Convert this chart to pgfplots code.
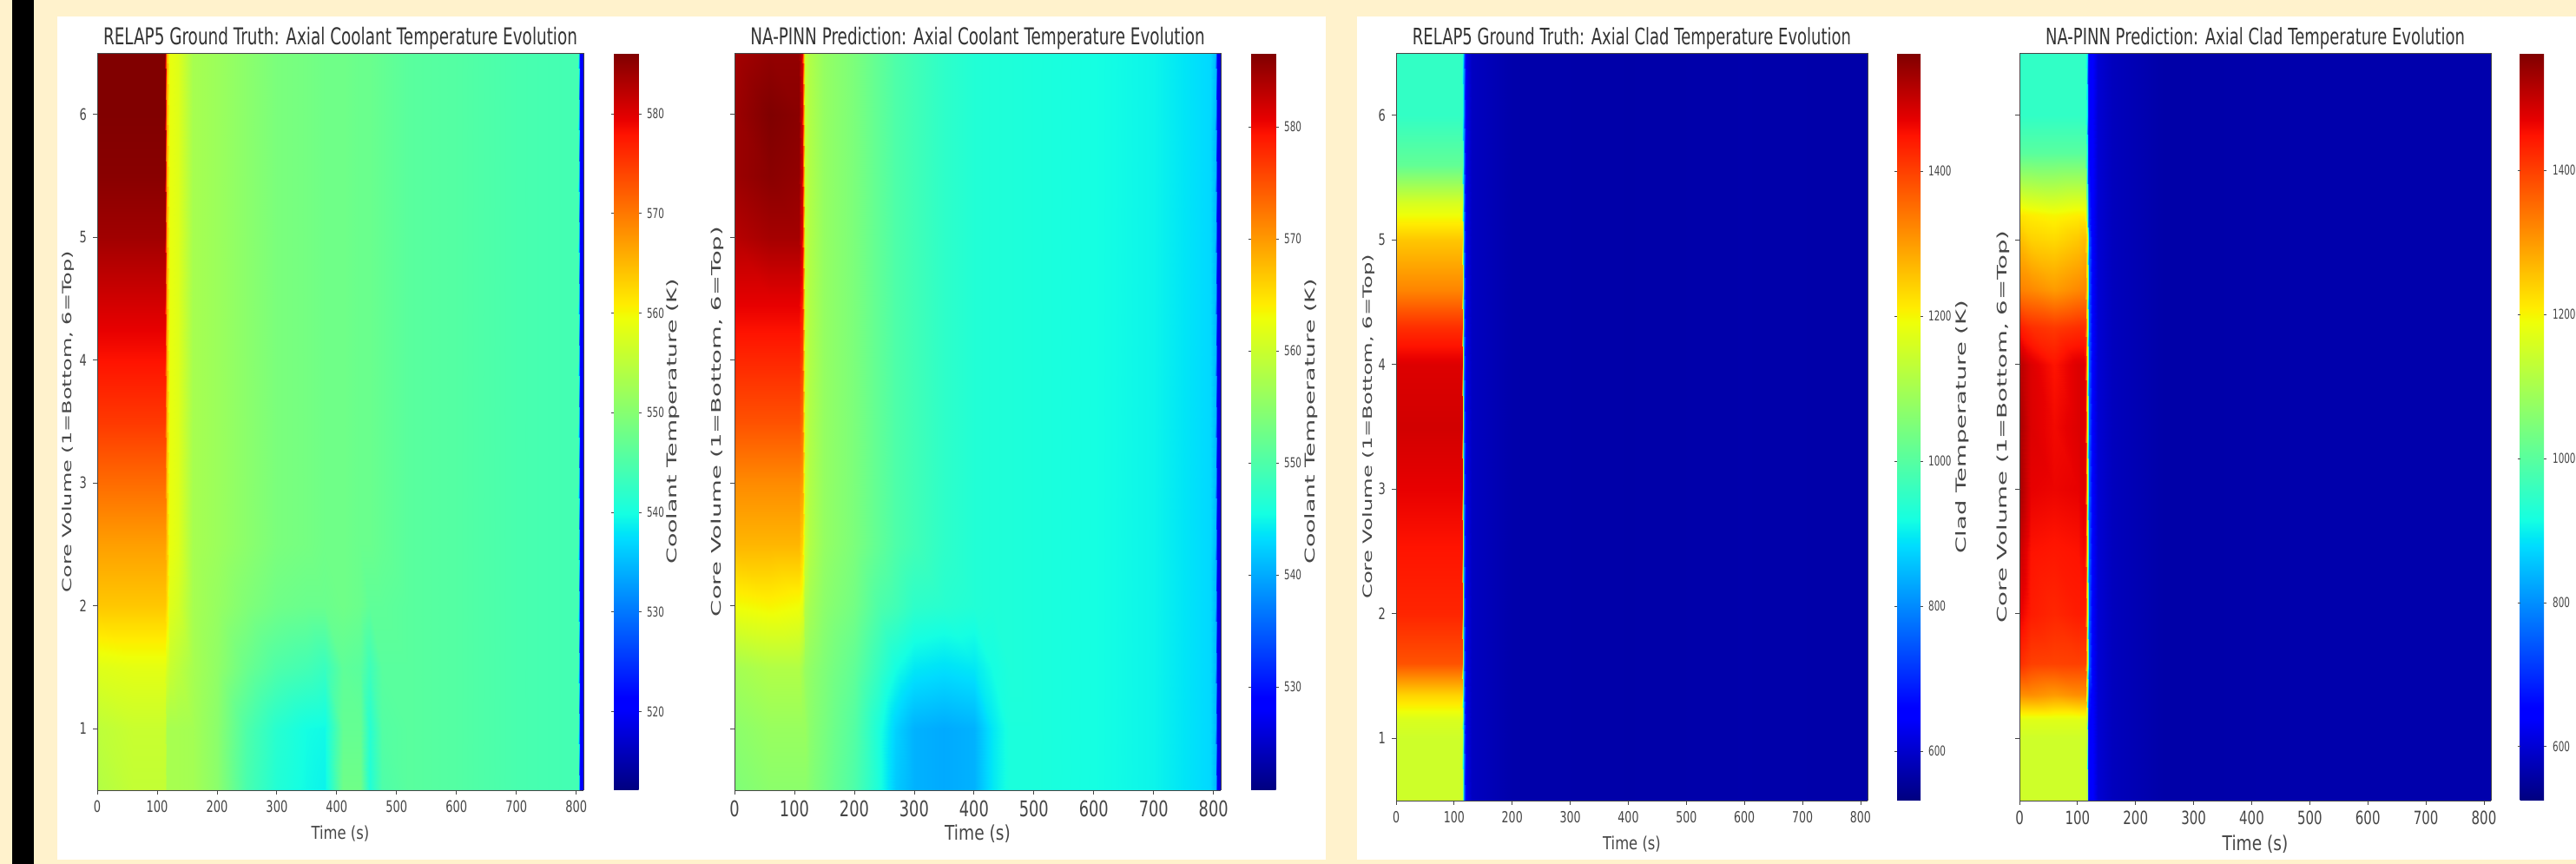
\documentclass[border=0pt]{standalone}
\usepackage{pgfplots}
\usepackage{fontspec}
\setmainfont{DejaVu Sans}
\pgfplotsset{compat=1.18}
\definecolor{cream}{RGB}{255,242,204}
\definecolor{axc}{RGB}{70,70,70}
\pgfplotsset{
  colormap={mpljet}{rgb(0pt)=(0,0,.5); rgb(110pt)=(0,0,1); rgb(125pt)=(0,0,1); rgb(340pt)=(0,.86,1); rgb(350pt)=(0,.9,.968); rgb(375pt)=(.081,1,.887); rgb(640pt)=(.935,1,.032); rgb(650pt)=(.968,.963,0); rgb(660pt)=(1,.926,0); rgb(890pt)=(1,.074,0); rgb(910pt)=(.909,0,0); rgb(1000pt)=(.5,0,0)},
  hm/.style={
    scale only axis, view={0}{90}, colormap name=mpljet, axis on top,
    xmin=0,xmax=812,ymin=0.5,ymax=6.5,
    xtick={0,100,...,800},ytick={1,2,3,4,5,6},ztick=\empty,
    tick align=outside, tick pos=left, major tick length=2.5pt,
    grid=none,
    axis line style={axc,line width=0.4pt},
    tick style={axc,line width=0.4pt},
    /pgf/number format/assume math mode=true,
    /pgf/number format/1000 sep={},
    xticklabel={\scalebox{1}[1.4]{\pgfmathprintnumber{\tick}}},
    yticklabel={\scalebox{1}[1.4]{\pgfmathprintnumber{\tick}}},
    ticklabel style={font=\fontsize{6.5}{8}\selectfont,text=axc},
    title style={font=\fontsize{9.2}{10}\selectfont,text=black!80,at={(0.5,1)},anchor=center,yshift=2.5pt},
    xlabel={\scalebox{1}[1.25]{Time (s)}},
    xlabel style={font=\fontsize{8.2}{10}\selectfont,text=axc,at={(0.5,0)},anchor=center},
    ylabel style={text=axc,anchor=center,rotate=0},
  },
  cb/.style={
    at={(parent axis.south east)},anchor=south west,
    scale only axis,
    tick align=outside,
    major tick length=1.5pt,
    axis line style={draw=none},
    tick style={axc,line width=0.3pt},
    yticklabel pos=right,
    /pgf/number format/assume math mode=true,
    /pgf/number format/1000 sep={},
    yticklabel={\scalebox{1}[1.5]{\pgfmathprintnumber{\tick}}},
    yticklabel style={font=\fontsize{5.2}{6}\selectfont,text=axc,xshift=-0.5pt},
    ylabel style={text=axc,anchor=center},
  },
}
\begin{document}
\begin{tikzpicture}[x=1pt,y=1pt]
\path[use as bounding box,fill=cream] (0,0) rectangle (1483.5,497.5);
\fill[black] (7,0) rectangle (19.5,497.5);
\fill[white] (33,2.5) rectangle (763.5,488);
\fill[white] (781.5,2.5) rectangle (1483.5,488);

% Panel 1
\begin{axis}[hm,at={(56pt,42.5pt)},anchor=south west,width=280pt,height=424.5pt,
  title={\scalebox{1}[1.45]{RELAP5 Ground Truth: Axial Coolant Temperature Evolution}},
  xlabel style={yshift=-25pt},
  ylabel={\scalebox{1}[0.6]{Core Volume (1=Bottom, 6=Top)}},
  ylabel style={at={(0,0.5)},yshift=16.5pt,font=\fontsize{12}{14}\selectfont},
  point meta min=512.1,point meta max=586.1,
  colorbar,
  colorbar style={cb,xshift=9pt,width=14.5pt,ytick={520,530,...,580},
    ylabel={\scalebox{1}[0.58]{Coolant Temperature (K)}},ylabel style={at={(1,0.5)},yshift=-19.5pt,font=\fontsize{13.4}{15}\selectfont}}]
\addplot3[surf,shader=interp,mesh/cols=23] coordinates {
(0,0.5,554)(60,0.5,555.5)(108,0.5,555.5)(113,0.5,555.5)(116,0.5,553)(120,0.5,553)(135,0.5,553)(160,0.5,552.7)(200,0.5,550.5)(250,0.5,544.5)(300,0.5,541)(350,0.5,539.5)(380,0.5,539)(410,0.5,548)(440,0.5,548)(455,0.5,541)(475,0.5,545)(520,0.5,546)(600,0.5,545.5)(700,0.5,544.5)(803,0.5,544)(806,0.5,522)(812,0.5,518)
(0,1,555)(60,1,556)(108,1,556)(113,1,556)(116,1,553)(120,1,553)(135,1,553)(160,1,552.7)(200,1,550.5)(250,1,545)(300,1,541.5)(350,1,539.8)(380,1,539.5)(410,1,547)(440,1,547)(455,1,541.5)(475,1,545.5)(520,1,546)(600,1,545.5)(700,1,544.5)(803,1,544)(806,1,522)(812,1,518)
(0,1.5,558)(60,1.5,558.5)(108,1.5,558.5)(113,1.5,558.5)(116,1.5,557)(120,1.5,556)(135,1.5,555)(160,1.5,553)(200,1.5,551)(250,1.5,547.5)(300,1.5,545)(350,1.5,544)(380,1.5,543)(410,1.5,546.5)(440,1.5,546)(455,1.5,543.5)(475,1.5,546)(520,1.5,546)(600,1.5,545.5)(700,1.5,544.5)(803,1.5,544)(806,1.5,522)(812,1.5,518)
(0,2,563.8)(60,2,563.8)(108,2,563.8)(113,2,563.8)(116,2,562)(120,2,558)(135,2,557)(160,2,553)(200,2,551.5)(250,2,549.5)(300,2,548)(350,2,547.5)(380,2,547.5)(410,2,548)(440,2,547.5)(455,2,546.5)(475,2,546.5)(520,2,546)(600,2,545.5)(700,2,544.5)(803,2,544)(806,2,522)(812,2,518)
(0,2.5,567)(60,2.5,567)(108,2.5,567)(113,2.5,567)(116,2.5,564)(120,2.5,559)(135,2.5,558)(160,2.5,553)(200,2.5,552)(250,2.5,550.5)(300,2.5,549)(350,2.5,548.5)(380,2.5,548)(410,2.5,548)(440,2.5,547.5)(455,2.5,547.5)(475,2.5,547)(520,2.5,546)(600,2.5,545.5)(700,2.5,544.5)(803,2.5,544)(806,2.5,522)(812,2.5,518)
(0,3,571)(60,3,571)(108,3,571)(113,3,571)(116,3,564)(120,3,559)(135,3,558)(160,3,553)(200,3,552)(250,3,550.5)(300,3,549)(350,3,548.5)(380,3,548)(410,3,548)(440,3,547.5)(455,3,547.5)(475,3,547)(520,3,546)(600,3,545.5)(700,3,544.5)(803,3,544)(806,3,522)(812,3,518)
(0,3.5,575)(60,3.5,575)(108,3.5,575)(113,3.5,575)(116,3.5,565)(120,3.5,559)(135,3.5,558)(160,3.5,553)(200,3.5,552)(250,3.5,550.5)(300,3.5,549)(350,3.5,548.5)(380,3.5,548)(410,3.5,548)(440,3.5,547.5)(455,3.5,547.5)(475,3.5,547)(520,3.5,546)(600,3.5,545.5)(700,3.5,544.5)(803,3.5,544)(806,3.5,522)(812,3.5,518)
(0,4,578)(60,4,578)(108,4,578)(113,4,578)(116,4,566)(120,4,559)(135,4,558)(160,4,553)(200,4,552)(250,4,550.5)(300,4,549)(350,4,548.5)(380,4,548)(410,4,548)(440,4,547.5)(455,4,547.5)(475,4,547)(520,4,546)(600,4,545.5)(700,4,544.5)(803,4,544)(806,4,522)(812,4,518)
(0,4.5,581)(60,4.5,581)(108,4.5,581)(113,4.5,581)(116,4.5,566)(120,4.5,559)(135,4.5,558)(160,4.5,553)(200,4.5,552)(250,4.5,550.5)(300,4.5,549)(350,4.5,548.5)(380,4.5,548)(410,4.5,548)(440,4.5,547.5)(455,4.5,547.5)(475,4.5,547)(520,4.5,546)(600,4.5,545.5)(700,4.5,544.5)(803,4.5,544)(806,4.5,522)(812,4.5,518)
(0,5,584)(60,5,584)(108,5,584)(113,5,584)(116,5,566)(120,5,559)(135,5,558)(160,5,553)(200,5,552)(250,5,550.5)(300,5,549)(350,5,548.5)(380,5,548)(410,5,548)(440,5,547.5)(455,5,547.5)(475,5,547)(520,5,546)(600,5,545.5)(700,5,544.5)(803,5,544)(806,5,522)(812,5,518)
(0,5.5,585.5)(60,5.5,585.5)(108,5.5,585.5)(113,5.5,585.5)(116,5.5,566)(120,5.5,559)(135,5.5,558)(160,5.5,553)(200,5.5,552)(250,5.5,550.5)(300,5.5,549)(350,5.5,548.5)(380,5.5,548)(410,5.5,548)(440,5.5,547.5)(455,5.5,547.5)(475,5.5,547)(520,5.5,546)(600,5.5,545.5)(700,5.5,544.5)(803,5.5,544)(806,5.5,522)(812,5.5,518)
(0,6,586)(60,6,586)(108,6,586)(113,6,586)(116,6,566)(120,6,559)(135,6,558)(160,6,553)(200,6,552)(250,6,550.5)(300,6,549)(350,6,548.5)(380,6,548)(410,6,548)(440,6,547.5)(455,6,547.5)(475,6,547)(520,6,546)(600,6,545.5)(700,6,544.5)(803,6,544)(806,6,522)(812,6,518)
(0,6.5,586)(60,6.5,586)(108,6.5,586)(113,6.5,586)(116,6.5,566)(120,6.5,559)(135,6.5,558)(160,6.5,553)(200,6.5,552)(250,6.5,550.5)(300,6.5,549)(350,6.5,548.5)(380,6.5,548)(410,6.5,548)(440,6.5,547.5)(455,6.5,547.5)(475,6.5,547)(520,6.5,546)(600,6.5,545.5)(700,6.5,544.5)(803,6.5,544)(806,6.5,522)(812,6.5,518)
};
\end{axis}

% Panel 2
\begin{axis}[hm,at={(423pt,42.5pt)},anchor=south west,width=280pt,height=424.5pt,
  title={\scalebox{1}[1.45]{NA-PINN Prediction: Axial Coolant Temperature Evolution}},
  yticklabels={},
  xticklabel style={font=\fontsize{8.9}{10}\selectfont},
  xlabel style={yshift=-25pt,font=\fontsize{9.3}{10}\selectfont},
  ylabel={\scalebox{1}[0.55]{Core Volume (1=Bottom, 6=Top)}},
  ylabel style={at={(0,0.5)},yshift=10pt,font=\fontsize{13.7}{15}\selectfont},
  point meta min=520.8,point meta max=586.6,
  colorbar,
  colorbar style={cb,xshift=9pt,width=14.5pt,ytick={530,540,...,580},
    ylabel={\scalebox{1}[0.58]{Coolant Temperature (K)}},ylabel style={at={(1,0.5)},yshift=-20pt,font=\fontsize{13.4}{15}\selectfont}}]
\addplot3[surf,shader=interp,mesh/cols=22] coordinates {
(0,0.5,554)(60,0.5,555)(108,0.5,555)(113,0.5,555)(118,0.5,555)(125,0.5,554.5)(150,0.5,553)(200,0.5,550)(240,0.5,546)(270,0.5,542)(300,0.5,540.5)(350,0.5,540)(400,0.5,540.5)(430,0.5,544)(460,0.5,546)(500,0.5,546)(600,0.5,545.5)(700,0.5,544.8)(795,0.5,543)(803,0.5,541)(806,0.5,527)(812,0.5,526)
(0,1,555)(60,1,556)(108,1,556)(113,1,556)(118,1,556)(125,1,555)(150,1,553.5)(200,1,550.5)(240,1,546)(270,1,542.5)(300,1,540.5)(350,1,540)(400,1,540.5)(430,1,544)(460,1,546)(500,1,546)(600,1,545.5)(700,1,544.8)(795,1,543)(803,1,541)(806,1,527)(812,1,526)
(0,1.5,557)(60,1.5,558)(108,1.5,558)(113,1.5,557)(118,1.5,556)(125,1.5,555.5)(150,1.5,554)(200,1.5,551.5)(240,1.5,548)(270,1.5,545.5)(300,1.5,544)(350,1.5,543.5)(400,1.5,544)(430,1.5,545.5)(460,1.5,546.2)(500,1.5,546)(600,1.5,545.5)(700,1.5,544.8)(795,1.5,543)(803,1.5,541)(806,1.5,527)(812,1.5,526)
(0,2,563)(60,2,563.6)(108,2,563)(113,2,562)(118,2,558)(125,2,557)(150,2,555)(200,2,553)(240,2,550)(270,2,549)(300,2,547.5)(350,2,547)(400,2,546.5)(430,2,546.3)(460,2,546.2)(500,2,546)(600,2,545.5)(700,2,544.8)(795,2,543)(803,2,541)(806,2,527)(812,2,526)
(0,2.5,568)(60,2.5,568)(108,2.5,568)(113,2.5,566)(118,2.5,560)(125,2.5,558)(150,2.5,555.7)(200,2.5,553.7)(240,2.5,551.5)(270,2.5,550)(300,2.5,549)(350,2.5,547.5)(400,2.5,546.5)(430,2.5,546.3)(460,2.5,546.2)(500,2.5,546)(600,2.5,545.5)(700,2.5,544.8)(795,2.5,543)(803,2.5,541)(806,2.5,527)(812,2.5,526)
(0,3,571)(60,3,571)(108,3,571)(113,3,570)(118,3,560)(125,3,558)(150,3,555.7)(200,3,553.7)(240,3,551.5)(270,3,550)(300,3,549)(350,3,547.5)(400,3,546.5)(430,3,546.3)(460,3,546.2)(500,3,546)(600,3,545.5)(700,3,544.8)(795,3,543)(803,3,541)(806,3,527)(812,3,526)
(0,3.5,575)(60,3.5,575)(108,3.5,575)(113,3.5,573)(118,3.5,560)(125,3.5,558)(150,3.5,555.7)(200,3.5,553.7)(240,3.5,551.5)(270,3.5,550)(300,3.5,549)(350,3.5,547.5)(400,3.5,546.5)(430,3.5,546.3)(460,3.5,546.2)(500,3.5,546)(600,3.5,545.5)(700,3.5,544.8)(795,3.5,543)(803,3.5,541)(806,3.5,527)(812,3.5,526)
(0,4,578)(60,4,578)(108,4,578)(113,4,576)(118,4,560)(125,4,558)(150,4,555.7)(200,4,553.7)(240,4,551.5)(270,4,550)(300,4,549)(350,4,547.5)(400,4,546.5)(430,4,546.3)(460,4,546.2)(500,4,546)(600,4,545.5)(700,4,544.8)(795,4,543)(803,4,541)(806,4,527)(812,4,526)
(0,4.5,581)(60,4.5,581)(108,4.5,581)(113,4.5,579)(118,4.5,560)(125,4.5,558)(150,4.5,555.7)(200,4.5,553.7)(240,4.5,551.5)(270,4.5,550)(300,4.5,549)(350,4.5,547.5)(400,4.5,546.5)(430,4.5,546.3)(460,4.5,546.2)(500,4.5,546)(600,4.5,545.5)(700,4.5,544.8)(795,4.5,543)(803,4.5,541)(806,4.5,527)(812,4.5,526)
(0,5,583.5)(60,5,584.5)(108,5,584.5)(113,5,581)(118,5,560)(125,5,558)(150,5,555.7)(200,5,553.7)(240,5,551.5)(270,5,550)(300,5,549)(350,5,547.5)(400,5,546.5)(430,5,546.3)(460,5,546.2)(500,5,546)(600,5,545.5)(700,5,544.8)(795,5,543)(803,5,541)(806,5,527)(812,5,526)
(0,5.5,585)(60,5.5,586)(108,5.5,585.5)(113,5.5,582)(118,5.5,560)(125,5.5,558)(150,5.5,555.7)(200,5.5,553.7)(240,5.5,551.5)(270,5.5,550)(300,5.5,549)(350,5.5,547.5)(400,5.5,546.5)(430,5.5,546.3)(460,5.5,546.2)(500,5.5,546)(600,5.5,545.5)(700,5.5,544.8)(795,5.5,543)(803,5.5,541)(806,5.5,527)(812,5.5,526)
(0,6,585)(60,6,586.6)(108,6,586)(113,6,582)(118,6,560)(125,6,558)(150,6,555.7)(200,6,553.7)(240,6,551.5)(270,6,550)(300,6,549)(350,6,547.5)(400,6,546.5)(430,6,546.3)(460,6,546.2)(500,6,546)(600,6,545.5)(700,6,544.8)(795,6,543)(803,6,541)(806,6,527)(812,6,526)
(0,6.5,584.5)(60,6.5,585.5)(108,6.5,585.5)(113,6.5,582)(118,6.5,560)(125,6.5,558)(150,6.5,555.7)(200,6.5,553.7)(240,6.5,551.5)(270,6.5,550)(300,6.5,549)(350,6.5,547.5)(400,6.5,546.5)(430,6.5,546.3)(460,6.5,546.2)(500,6.5,546)(600,6.5,545.5)(700,6.5,544.8)(795,6.5,543)(803,6.5,541)(806,6.5,527)(812,6.5,526)
};
\end{axis}

% Panel 3
\begin{axis}[hm,at={(804pt,36.5pt)},anchor=south west,width=271.5pt,height=430.5pt,
  title={\scalebox{1}[1.45]{RELAP5 Ground Truth: Axial Clad Temperature Evolution}},
  title style={font=\fontsize{9}{10}\selectfont},
  xticklabel style={font=\fontsize{6.3}{8}\selectfont},
  xlabel style={yshift=-25pt},
  ylabel={\scalebox{1}[0.6]{Core Volume (1=Bottom, 6=Top)}},
  ylabel style={at={(0,0.5)},yshift=16pt,font=\fontsize{12.1}{14}\selectfont},
  point meta min=531.6,point meta max=1563,
  colorbar,
  colorbar style={cb,xshift=8.5pt,width=13.5pt,ytick={600,800,...,1400},
    ylabel={\scalebox{1}[0.58]{Clad Temperature (K)}},ylabel style={at={(1,0.5)},yshift=-24pt,font=\fontsize{13.7}{15}\selectfont}}]
\addplot3[surf,shader=interp,mesh/cols=13] coordinates {
(0,0.5,1150)(60,0.5,1150)(112,0.5,1150)(114,0.5,1150)(115.5,0.5,1000)(117,0.5,800)(119,0.5,640)(123,0.5,620)(130,0.5,590)(200,0.5,570)(400,0.5,568)(600,0.5,570)(812,0.5,568)
(0,1,1150)(60,1,1150)(112,1,1150)(114,1,1150)(115.5,1,1000)(117,1,800)(119,1,640)(123,1,620)(130,1,590)(200,1,570)(400,1,568)(600,1,570)(812,1,568)
(0,1.15,1165)(60,1.15,1165)(112,1.15,1165)(114,1.15,1165)(115.5,1.15,1000)(117,1.15,800)(119,1.15,640)(123,1.15,620)(130,1.15,590)(200,1.15,570)(400,1.15,568)(600,1.15,570)(812,1.15,568)
(0,1.35,1240)(60,1.35,1240)(112,1.35,1240)(114,1.35,1240)(115.5,1.35,1000)(117,1.35,800)(119,1.35,640)(123,1.35,620)(130,1.35,590)(200,1.35,570)(400,1.35,568)(600,1.35,570)(812,1.35,568)
(0,1.6,1380)(60,1.6,1380)(112,1.6,1380)(114,1.6,1380)(115.5,1.6,1100)(117,1.6,800)(119,1.6,640)(123,1.6,620)(130,1.6,590)(200,1.6,570)(400,1.6,568)(600,1.6,570)(812,1.6,568)
(0,2,1430)(60,2,1430)(112,2,1430)(114,2,1430)(115.5,2,1150)(117,2,800)(119,2,640)(123,2,620)(130,2,590)(200,2,570)(400,2,568)(600,2,570)(812,2,568)
(0,2.5,1448)(60,2.5,1448)(112,2.5,1448)(114,2.5,1448)(115.5,2.5,1150)(117,2.5,800)(119,2.5,640)(123,2.5,620)(130,2.5,590)(200,2.5,570)(400,2.5,568)(600,2.5,570)(812,2.5,568)
(0,3,1470)(60,3,1470)(112,3,1470)(114,3,1470)(115.5,3,1150)(117,3,800)(119,3,640)(123,3,620)(130,3,590)(200,3,570)(400,3,568)(600,3,570)(812,3,568)
(0,3.5,1490)(60,3.5,1490)(112,3.5,1490)(114,3.5,1490)(115.5,3.5,1150)(117,3.5,800)(119,3.5,640)(123,3.5,620)(130,3.5,590)(200,3.5,570)(400,3.5,568)(600,3.5,570)(812,3.5,568)
(0,4,1480)(60,4,1480)(112,4,1480)(114,4,1480)(115.5,4,1150)(117,4,800)(119,4,640)(123,4,620)(130,4,590)(200,4,570)(400,4,568)(600,4,570)(812,4,568)
(0,4.3,1420)(60,4.3,1420)(112,4.3,1420)(114,4.3,1420)(115.5,4.3,1150)(117,4.3,800)(119,4.3,640)(123,4.3,620)(130,4.3,590)(200,4.3,570)(400,4.3,568)(600,4.3,570)(812,4.3,568)
(0,4.6,1325)(60,4.6,1325)(112,4.6,1325)(114,4.6,1325)(115.5,4.6,1150)(117,4.6,800)(119,4.6,640)(123,4.6,620)(130,4.6,590)(200,4.6,570)(400,4.6,568)(600,4.6,570)(812,4.6,568)
(0,5,1253)(60,5,1253)(112,5,1253)(114,5,1253)(115.5,5,1100)(117,5,800)(119,5,640)(123,5,620)(130,5,590)(200,5,570)(400,5,568)(600,5,570)(812,5,568)
(0,5.3,1160)(60,5.3,1160)(112,5.3,1160)(114,5.3,1160)(115.5,5.3,1000)(117,5.3,800)(119,5.3,640)(123,5.3,620)(130,5.3,590)(200,5.3,570)(400,5.3,568)(600,5.3,570)(812,5.3,568)
(0,5.6,1015)(60,5.6,1015)(112,5.6,1015)(114,5.6,1015)(115.5,5.6,950)(117,5.6,800)(119,5.6,640)(123,5.6,620)(130,5.6,590)(200,5.6,570)(400,5.6,568)(600,5.6,570)(812,5.6,568)
(0,6,955)(60,6,955)(112,6,955)(114,6,955)(115.5,6,900)(117,6,800)(119,6,640)(123,6,620)(130,6,590)(200,6,570)(400,6,568)(600,6,570)(812,6,568)
(0,6.5,955)(60,6.5,955)(112,6.5,955)(114,6.5,955)(115.5,6.5,900)(117,6.5,800)(119,6.5,640)(123,6.5,620)(130,6.5,590)(200,6.5,570)(400,6.5,568)(600,6.5,570)(812,6.5,568)
};
\end{axis}

% Panel 4
\begin{axis}[hm,at={(1163pt,36.5pt)},anchor=south west,width=271.5pt,height=430.5pt,
  title={\scalebox{1}[1.45]{NA-PINN Prediction: Axial Clad Temperature Evolution}},
  title style={font=\fontsize{9}{10}\selectfont},
  yticklabels={},
  xticklabel style={font=\fontsize{7.5}{10}\selectfont},
  xlabel style={yshift=-25pt,font=\fontsize{9.3}{10}\selectfont},
  ylabel={\scalebox{1}[0.55]{Core Volume (1=Bottom, 6=Top)}},
  ylabel style={at={(0,0.5)},yshift=9.5pt,font=\fontsize{13.8}{15}\selectfont},
  point meta min=525,point meta max=1563,
  colorbar,
  colorbar style={cb,xshift=8.25pt,width=13.75pt,ytick={600,800,...,1400},
    yticklabel style={xshift=0.5pt}}]
\addplot3[surf,shader=interp,mesh/cols=15] coordinates {
(0,0.5,1148)(20,0.5,1148)(60,0.5,1148)(100,0.5,1148)(110,0.5,1148)(114,0.5,1148)(116,0.5,1100)(118,0.5,700)(120,0.5,660)(125,0.5,640)(135,0.5,600)(160,0.5,580)(250,0.5,561)(500,0.5,565)(812,0.5,565)
(0,1,1148)(20,1,1148)(60,1,1148)(100,1,1148)(110,1,1148)(114,1,1148)(116,1,1100)(118,1,700)(120,1,660)(125,1,640)(135,1,600)(160,1,580)(250,1,561)(500,1,565)(812,1,565)
(0,1.15,1170)(20,1.15,1170)(60,1.15,1170)(100,1.15,1170)(110,1.15,1170)(114,1.15,1170)(116,1.15,1100)(118,1.15,700)(120,1.15,660)(125,1.15,640)(135,1.15,600)(160,1.15,580)(250,1.15,561)(500,1.15,565)(812,1.15,565)
(0,1.35,1314)(20,1.35,1314)(60,1.35,1300)(100,1.35,1314)(110,1.35,1314)(114,1.35,1314)(116,1.35,1100)(118,1.35,800)(120,1.35,680)(125,1.35,640)(135,1.35,600)(160,1.35,580)(250,1.35,561)(500,1.35,565)(812,1.35,565)
(0,1.6,1420)(20,1.6,1400)(60,1.6,1397)(100,1.6,1400)(110,1.6,1397)(114,1.6,1397)(116,1.6,1200)(118,1.6,950)(120,1.6,750)(125,1.6,640)(135,1.6,600)(160,1.6,580)(250,1.6,561)(500,1.6,565)(812,1.6,565)
(0,2,1470)(20,2,1440)(60,2,1428)(100,2,1440)(110,2,1440)(114,2,1430)(116,2,1200)(118,2,950)(120,2,750)(125,2,640)(135,2,600)(160,2,580)(250,2,561)(500,2,565)(812,2,565)
(0,2.5,1500)(20,2.5,1450)(60,2.5,1445)(100,2.5,1450)(110,2.5,1460)(114,2.5,1450)(116,2.5,1200)(118,2.5,950)(120,2.5,750)(125,2.5,640)(135,2.5,600)(160,2.5,580)(250,2.5,561)(500,2.5,565)(812,2.5,565)
(0,3,1530)(20,3,1470)(60,3,1465)(100,3,1470)(110,3,1480)(114,3,1470)(116,3,1200)(118,3,950)(120,3,750)(125,3,640)(135,3,600)(160,3,580)(250,3,561)(500,3,565)(812,3,565)
(0,3.5,1530)(20,3.5,1480)(60,3.5,1460)(100,3.5,1480)(110,3.5,1480)(114,3.5,1470)(116,3.5,1200)(118,3.5,950)(120,3.5,750)(125,3.5,640)(135,3.5,600)(160,3.5,580)(250,3.5,561)(500,3.5,565)(812,3.5,565)
(0,4,1515)(20,4,1480)(60,4,1449)(100,4,1480)(110,4,1480)(114,4,1460)(116,4,1200)(118,4,950)(120,4,750)(125,4,640)(135,4,600)(160,4,580)(250,4,561)(500,4,565)(812,4,565)
(0,4.3,1440)(20,4.3,1420)(60,4.3,1407)(100,4.3,1420)(110,4.3,1420)(114,4.3,1410)(116,4.3,1200)(118,4.3,950)(120,4.3,750)(125,4.3,640)(135,4.3,600)(160,4.3,580)(250,4.3,561)(500,4.3,565)(812,4.3,565)
(0,4.6,1330)(20,4.6,1320)(60,4.6,1300)(100,4.6,1320)(110,4.6,1325)(114,4.6,1325)(116,4.6,1200)(118,4.6,950)(120,4.6,750)(125,4.6,640)(135,4.6,600)(160,4.6,580)(250,4.6,561)(500,4.6,565)(812,4.6,565)
(0,5,1262)(20,5,1240)(60,5,1231)(100,5,1250)(110,5,1262)(114,5,1262)(116,5,1200)(118,5,950)(120,5,750)(125,5,640)(135,5,600)(160,5,580)(250,5,561)(500,5,565)(812,5,565)
(0,5.2,1220)(20,5.2,1210)(60,5.2,1200)(100,5.2,1210)(110,5.2,1210)(114,5.2,1200)(116,5.2,1000)(118,5.2,800)(120,5.2,700)(125,5.2,640)(135,5.2,600)(160,5.2,580)(250,5.2,561)(500,5.2,565)(812,5.2,565)
(0,5.7,1000)(20,5.7,1000)(60,5.7,1000)(100,5.7,1000)(110,5.7,1000)(114,5.7,1000)(116,5.7,900)(118,5.7,700)(120,5.7,660)(125,5.7,640)(135,5.7,600)(160,5.7,580)(250,5.7,561)(500,5.7,565)(812,5.7,565)
(0,6,950)(20,6,950)(60,6,950)(100,6,950)(110,6,950)(114,6,950)(116,6,880)(118,6,700)(120,6,660)(125,6,640)(135,6,600)(160,6,580)(250,6,561)(500,6,565)(812,6,565)
(0,6.5,950)(20,6.5,950)(60,6.5,950)(100,6.5,950)(110,6.5,950)(114,6.5,950)(116,6.5,880)(118,6.5,700)(120,6.5,660)(125,6.5,640)(135,6.5,600)(160,6.5,580)(250,6.5,561)(500,6.5,565)(812,6.5,565)
};
\end{axis}
\end{tikzpicture}
\end{document}
